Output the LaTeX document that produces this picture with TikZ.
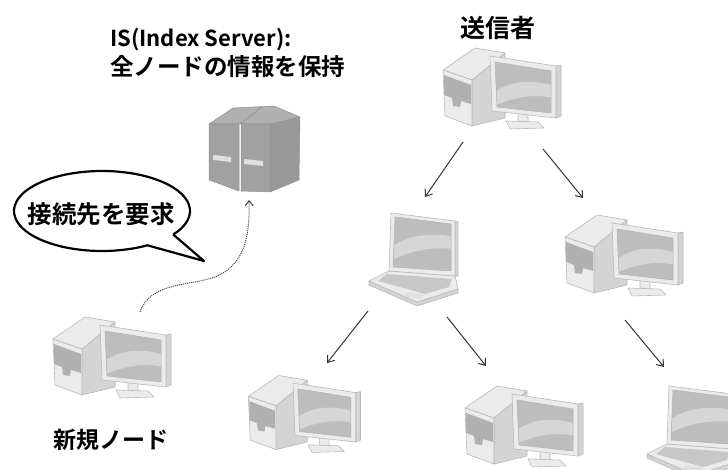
\documentclass[tikz,border=0pt]{standalone}
\usepackage{fontspec}
\newfontfamily\jpfont{Noto Sans CJK JP Bold}
\usetikzlibrary{arrows.meta}

\tikzset{
  x=1pt, y=-1pt,
  lightpart/.style={fill=gray!16, draw=gray!55, line width=0.6pt, line join=round},
  midpart/.style={fill=gray!34, draw=gray!55, line width=0.6pt, line join=round},
  darkpart/.style={fill=gray!62, draw=none},
  srvfront/.style={fill=gray!74, draw=gray!85, line width=0.5pt, line join=round},
  srvside/.style={fill=gray!80, draw=gray!85, line width=0.5pt, line join=round},
  srvtop/.style={fill=gray!62, draw=gray!85, line width=0.5pt, line join=round},
  flow/.style={draw=black!80, line width=1pt, -{Straight Barb[length=6pt,width=9pt]}},
  request/.style={draw=black!75, line width=1pt, dash pattern=on 1pt off 1pt,
                  -{Straight Barb[length=5pt,width=8pt]}},
  txt/.style={font=\jpfont, inner sep=0pt, anchor=base},
  % desktop computer: tower on the left, monitor in front on the right
  desktop/.pic={
    \path[midpart]   (42,42) -- (75,15) -- (75,80) -- (42,88) -- cycle;
    \path[lightpart] (13,32) -- (45,10) -- (75,15) -- (42,42) -- cycle;
    \path[lightpart] (13,32) -- (42,42) -- (42,88) -- (15,78) -- cycle;
    \path[darkpart]  (14,37) -- (41,47) -- (41,66) -- (31,63) -- (30,69) -- (23,68) -- (22,60) -- (14,57) -- cycle;
    \path[lightpart] (88,73) -- (98,75) -- (98,85) -- (88,84) -- cycle;
    \path[lightpart] (76,83) -- (108,84) -- (114,90) -- (80,91) -- cycle;
    \path[midpart]   (126,28) -- (131,27) -- (131,78) -- (126,80) -- cycle;
    \path[lightpart] (60,18) -- (126,28) -- (126,80) -- (62,73) -- cycle;
    \begin{scope}
      \clip (65,24) -- (121,33) -- (121,75) -- (67,69) -- cycle;
      \fill[gray!52] (60,18) rectangle (131,80);
      \fill[gray!32] (60,58) .. controls (80,40) and (104,42) .. (125,48)
                    -- (125,60) .. controls (104,56) and (84,58) .. (60,70) -- cycle;
    \end{scope}
    \draw[gray!62, line width=0.5pt] (65,24) -- (121,33) -- (121,75) -- (67,69) -- cycle;
  },
  % laptop: open lid with the keyboard deck in front
  laptop/.pic={
    \path[midpart]   (4,76) -- (52,97) -- (93,84) -- (93,88) -- (52,101) -- (4,80) -- cycle;
    \path[lightpart] (24,66) -- (90,71) -- (93,84) -- (52,97) -- (4,76) -- cycle;
    \path[fill=gray!44] (22,69) -- (87,74) -- (84,82) -- (60,89) -- (13,76) -- cycle;
    \path[fill=gray!24] (44,87) -- (60,90) -- (55,94) -- (38,91) -- cycle;
    \path[midpart]   (90,16) -- (93,17) -- (93,71) -- (90,71) -- cycle;
    \path[lightpart] (26,8) -- (90,16) -- (90,71) -- (24,66) -- cycle;
    \begin{scope}
      \clip (30,12) -- (86,19) -- (86,66) -- (28,62) -- cycle;
      \fill[gray!52] (20,8) rectangle (95,75);
      \fill[gray!32] (25,43) .. controls (45,28) and (70,28) .. (90,32)
                    -- (90,44) .. controls (70,42) and (48,44) .. (25,56) -- cycle;
    \end{scope}
    \draw[gray!62, line width=0.5pt] (30,12) -- (86,19) -- (86,66) -- (28,62) -- cycle;
  },
  % index server: two dark towers side by side
  server/.pic={
    \path[srvside]  (70,24) -- (100,17) -- (99,80) -- (70,92) -- cycle;
    \path[srvtop]   (9,24) -- (33,8) -- (74,6) -- (100,17) -- (70,24) -- cycle;
    \draw[gray!88, line width=0.6pt] (40,24) -- (62,7);
    \path[srvfront] (9,24) -- (39,24) -- (39,91) -- (9,80) -- cycle;
    \path[srvfront] (41,24) -- (70,24) -- (70,92) -- (41,91) -- cycle;
    \path[fill=gray!25] (13,55) -- (31,57) -- (31,62) -- (13,60) -- cycle;
    \path[fill=gray!25] (44,59) -- (63,61) -- (63,66) -- (44,64) -- cycle;
  },
}

\begin{document}
\begin{tikzpicture}
\path[use as bounding box, fill=white] (0,0) rectangle (728,470);

% captions
\node[txt, anchor=base west, font=\jpfont\fontsize{22}{26}\selectfont] (islabel) at (110,47) {IS(Index Server):};
\node[txt, anchor=base west, font=\jpfont\fontsize{23.5}{28}\selectfont] (isrole) at (110,76) {全ノードの情報を保持};
\node[txt, font=\jpfont\fontsize{25}{30}\selectfont] (senderlabel) at (498,38) {送信者};
\node[txt, font=\jpfont\fontsize{23}{28}\selectfont] (newlabel) at (111,448) {新規ノード};

% machines
\pic (is)   at (200,100) {server};
\pic (send) at (430,38)  {desktop};
\pic (lap1) at (365,205) {laptop};
\pic (pc1)  at (552,205) {desktop};
\pic[scale=0.95] (pc2) at (236,366) {desktop};
\pic (pc3)  at (452,376) {desktop};
\pic (lap2) at (643,378) {laptop};
\pic (new)  at (40,307)  {desktop};

% speech bubble with its tail towards the request arrow
\node[txt, font=\jpfont\fontsize{24.5}{29}\selectfont] (ask) at (101,224) {接続先を要求};
\draw[line width=2.2pt, line join=round]
  (102,211) ++(36:88 and 40) coordinate (tailA)
  arc[start angle=36, end angle=-301, x radius=88, y radius=40]
  -- (204,261) coordinate (tailtip) -- (tailA);

% request from the new node to the index server
\coordinate (reqfrom) at (140,312);
\coordinate (reqto)   at (249,200);
\draw[request] (reqfrom) .. controls (150,282) and (190,286) .. (215,277)
               .. controls (244,265) and (250,238) .. (reqto);

% forwarding arrows between nodes
\coordinate (s1) at (463,142);  \coordinate (e1) at (425,197);
\coordinate (s2) at (543,149);  \coordinate (e2) at (583,198);
\coordinate (s3) at (368,311);  \coordinate (e3) at (327,363);
\coordinate (s4) at (447,317);  \coordinate (e4) at (486,366);
\coordinate (s5) at (625,320);  \coordinate (e5) at (664,367);
\draw[flow] (s1) -- (e1);
\draw[flow] (s2) -- (e2);
\draw[flow] (s3) -- (e3);
\draw[flow] (s4) -- (e4);
\draw[flow] (s5) -- (e5);
\end{tikzpicture}
\end{document}
